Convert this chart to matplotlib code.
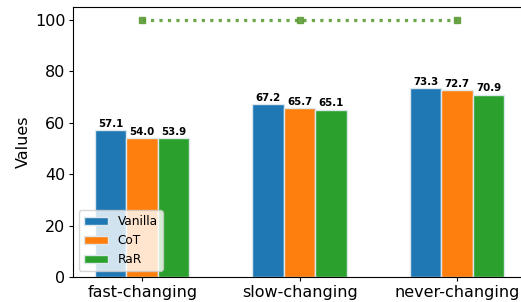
import numpy as np
import matplotlib
matplotlib.use('Agg')
import matplotlib.pyplot as plt

categories = ['fast-changing', 'slow-changing', 'never-changing']
vanilla = [57.1, 67.2, 73.3]
cot = [54.0, 65.7, 72.7]
rar = [53.9, 65.1, 70.9]
ref_line = [100, 100, 100]

x = np.arange(len(categories))
w = 0.2

fig = plt.figure(figsize=(5.21, 3.02), dpi=100)
ax = fig.add_axes([0.14, 0.083, 0.8706, 0.894])

series = [('Vanilla', vanilla, 'C0'), ('CoT', cot, 'C1'), ('RaR', rar, 'C2')]
for i, (name, vals, col) in enumerate(series):
    bars = ax.bar(x + (i - 1) * w, vals, w, color=col, edgecolor='#dde8ee', linewidth=1, label=name)
    for b, v in zip(bars, vals):
        ax.text(b.get_x() + b.get_width() / 2, v + 0.5, f'{v:.1f}', ha='center', va='bottom',
                fontsize=7.4, fontweight='bold')

ax.plot(x, ref_line, linestyle=':', color='#5e9c38', linewidth=2.3, marker='s', markersize=4, alpha=0.9)

ax.set_xticks(x)
ax.set_xticklabels(categories, fontsize=11.5)
ax.tick_params(axis='both', length=3, pad=2.5)
ax.tick_params(axis='y', labelsize=11.5)
ax.set_ylabel('Values', fontsize=11.5, labelpad=3)
ax.set_ylim(0, 105)
ax.set_xlim(-0.44, 2.44)
ax.spines['right'].set_visible(False)
ax.legend(loc='lower left', fontsize=8.7)

fig.savefig('out.png', dpi=100)
